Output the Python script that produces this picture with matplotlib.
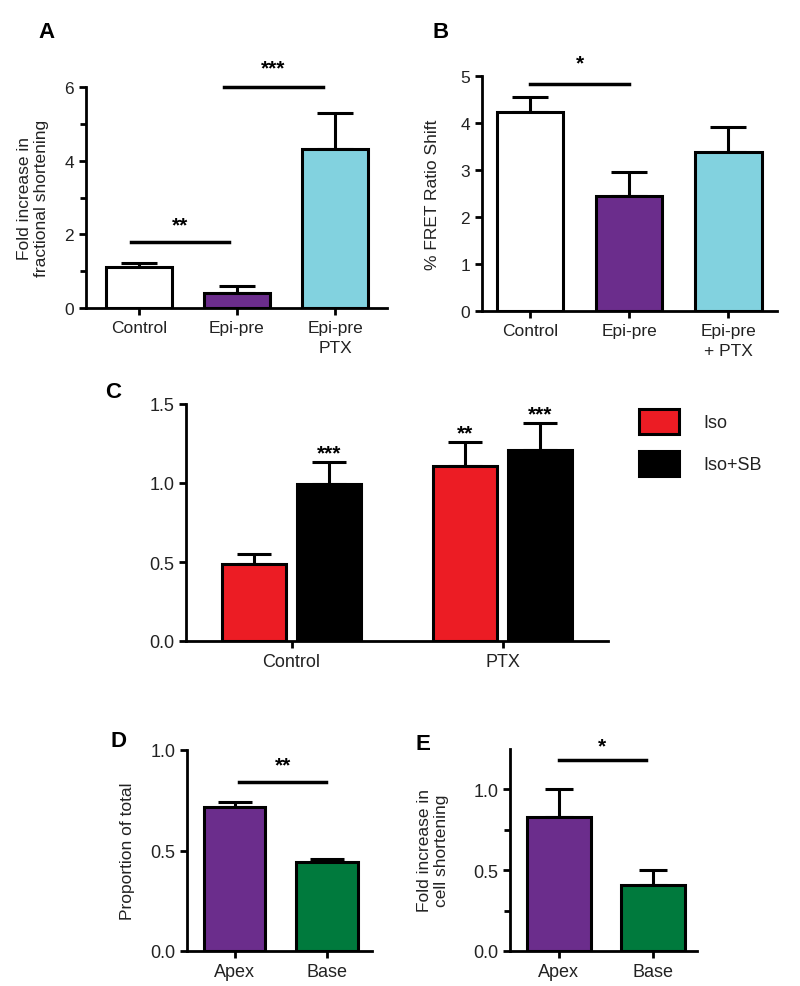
import numpy as np
import matplotlib
matplotlib.use('Agg')
import matplotlib.pyplot as plt

plt.rcParams['font.family'] = ['Liberation Sans', 'DejaVu Sans']

# DATA
a_labels = ['Control', 'Epi-pre', 'Epi-pre\nPTX']
a_means = [1.11, 0.41, 4.32]
a_sem = [0.11, 0.19, 0.98]

b_labels = ['Control', 'Epi-pre', 'Epi-pre\n+ PTX']
b_means = [4.23, 2.45, 3.38]
b_sem = [0.32, 0.51, 0.54]

c_groups = ['Control', 'PTX']
c_iso = [0.487, 1.11]
c_iso_sem = [0.063, 0.15]
c_isosb = [0.994, 1.21]
c_isosb_sem = [0.136, 0.17]
c_iso_stars = ['', '**']
c_isosb_stars = ['***', '***']

d_labels = ['Apex', 'Base']
d_means = [0.716, 0.443]
d_sem = [0.024, 0.017]

e_labels = ['Apex', 'Base']
e_means = [0.83, 0.41]
e_sem = [0.17, 0.09]

WHITE = '#ffffff'
PURPLE = '#6b2d8c'
CYAN = '#82d2df'
RED = '#ec1c24'
GREEN = '#007a3d'
TXT = '#222222'

W, H = 800, 987
fig = plt.figure(figsize=(W / 100, H / 100), dpi=100)


def px_axes(l, r, t, b):
    return fig.add_axes([l / W, 1 - b / H, (r - l) / W, (b - t) / H])


def style(ax, fs=12.5):
    for s in ['top', 'right']:
        ax.spines[s].set_visible(False)
    for s in ['left', 'bottom']:
        ax.spines[s].set_linewidth(2)
    ax.tick_params(width=2, length=5, direction='out', labelsize=fs, colors='black', labelcolor=TXT)
    ax.tick_params(which='minor', width=2, length=4)


def bars(ax, x, means, sem, colors, width, capsize):
    ax.bar(x, means, width, color=colors, edgecolor='black', linewidth=2.2, zorder=2)
    ax.errorbar(x, means, yerr=[np.zeros(len(sem)), sem], fmt='none', ecolor='black',
                elinewidth=2.2, capsize=capsize, capthick=2.2, zorder=1)


def sig(ax, x0, x1, y, stars, sx, sy):
    ax.plot([x0, x1], [y, y], color='black', lw=2.5, clip_on=False)
    ax.text(sx, sy, stars, ha='center', va='center', fontsize=15, fontweight='bold', clip_on=False)


# Panel A
ax = px_axes(86, 387, 88, 309)
style(ax)
xa = np.arange(len(a_labels))
bars(ax, xa, a_means, a_sem, [WHITE, PURPLE, CYAN], 0.68, 13)
ax.set_xlim(-0.54, 2.53)
ax.set_ylim(0, 6)
ax.set_yticks([0, 2, 4, 6])
ax.set_yticks([1, 3, 5], minor=True)
ax.set_xticks(xa)
ax.set_xticklabels(a_labels, linespacing=1.45)
ax.set_ylabel('Fold increase in\nfractional shortening', fontsize=12.5, color=TXT, labelpad=11)
sig(ax, -0.08, 0.92, 1.79, '**', 0.42, 2.26)
sig(ax, 0.87, 1.88, 6.0, '***', 1.37, 6.52)
fig.text(38 / W, 1 - 38 / H, 'A', fontsize=16, fontweight='bold')

# Panel B
ax = px_axes(482, 777, 77, 312)
style(ax)
xb = np.arange(len(b_labels))
bars(ax, xb, b_means, b_sem, [WHITE, PURPLE, CYAN], 0.67, 13)
ax.set_xlim(-0.485, 2.49)
ax.set_ylim(0, 5)
ax.set_yticks([0, 1, 2, 3, 4, 5])
ax.set_xticks(xb)
ax.set_xticklabels(b_labels, linespacing=1.4)
ax.set_ylabel('% FRET Ratio Shift', fontsize=12.5, color=TXT, labelpad=15)
sig(ax, 0.0, 1.0, 4.83, '*', 0.5, 5.28)
fig.text(432 / W, 1 - 38 / H, 'B', fontsize=16, fontweight='bold')

# Panel C
narrow = ['Liberation Sans Narrow', 'Liberation Sans', 'DejaVu Sans']
ax = px_axes(186, 608, 405, 642)
style(ax, fs=13)
xc = np.arange(len(c_groups))
off, bw = 0.178, 0.30
ax.bar(xc - off, c_iso, bw, color=RED, edgecolor='black', linewidth=2.2, zorder=2, label='Iso')
ax.errorbar(xc - off, c_iso, yerr=[np.zeros(2), c_iso_sem], fmt='none', ecolor='black',
            elinewidth=2.2, capsize=12, capthick=2.2, zorder=1)
ax.bar(xc + off, c_isosb, bw, color='black', edgecolor='black', linewidth=2.2, zorder=2, label='Iso+SB')
ax.errorbar(xc + off, c_isosb, yerr=[np.zeros(2), c_isosb_sem], fmt='none', ecolor='black',
            elinewidth=2.2, capsize=12, capthick=2.2, zorder=1)
for i in range(len(c_groups)):
    if c_iso_stars[i]:
        ax.text(xc[i] - off, c_iso[i] + c_iso_sem[i] + 0.06, c_iso_stars[i], ha='center', va='center',
                fontsize=15, fontweight='bold', clip_on=False)
    if c_isosb_stars[i]:
        ax.text(xc[i] + off, c_isosb[i] + c_isosb_sem[i] + 0.06, c_isosb_stars[i], ha='center',
                va='center', fontsize=15, fontweight='bold', clip_on=False)
ax.set_xlim(-0.5, 1.5)
ax.set_ylim(0, 1.5)
ax.set_yticks([0, 0.5, 1.0, 1.5])
ax.set_yticklabels(['0.0', '0.5', '1.0', '1.5'], family=narrow)
ax.set_xticks(xc)
ax.set_xticklabels(c_groups, family=narrow)
ax.legend(loc='upper left', bbox_to_anchor=(639 / W, 1 - 410 / H), bbox_transform=fig.transFigure,
          frameon=False, borderpad=0, borderaxespad=0, handlelength=2.2, handleheight=1.75,
          handletextpad=1.35, labelspacing=0.95, prop={'family': narrow, 'size': 13}, labelcolor=TXT)
fig.text(105 / W, 1 - 398 / H, 'C', fontsize=16, fontweight='bold')

# Panel D
ax = px_axes(187, 372, 751, 952)
style(ax, fs=13)
xd = np.arange(len(d_labels))
bars(ax, xd, d_means, d_sem, [PURPLE, GREEN], 0.67, 12)
ax.set_xlim(-0.516, 1.49)
ax.set_ylim(0, 1.0)
ax.set_yticks([0, 0.5, 1.0])
ax.set_yticklabels(['0.0', '0.5', '1.0'])
ax.set_xticks(xd)
ax.set_xticklabels(d_labels)
ax.set_ylabel('Proportion of total', fontsize=12.5, color=TXT, labelpad=11)
sig(ax, 0.05, 0.99, 0.84, '**', 0.53, 0.925)
fig.text(110 / W, 1 - 747 / H, 'D', fontsize=16, fontweight='bold')

# Panel E
ax = px_axes(510, 697, 750, 952)
style(ax, fs=13)
xe = np.arange(len(e_labels))
bars(ax, xe, e_means, e_sem, [PURPLE, GREEN], 0.68, 10)
ax.set_xlim(-0.52, 1.47)
ax.set_ylim(0, 1.25)
ax.set_yticks([0, 0.5, 1.0])
ax.set_yticklabels(['0.0', '0.5', '1.0'])
ax.set_yticks([0.25, 0.75], minor=True)
ax.set_xticks(xe)
ax.set_xticklabels(e_labels)
ax.set_ylabel('Fold increase in\ncell shortening', fontsize=12.5, color=TXT, labelpad=17)
sig(ax, 0.0, 0.93, 1.18, '*', 0.46, 1.27)
fig.text(415 / W, 1 - 750 / H, 'E', fontsize=16, fontweight='bold')

fig.savefig('out.png', dpi=100, facecolor='white')
